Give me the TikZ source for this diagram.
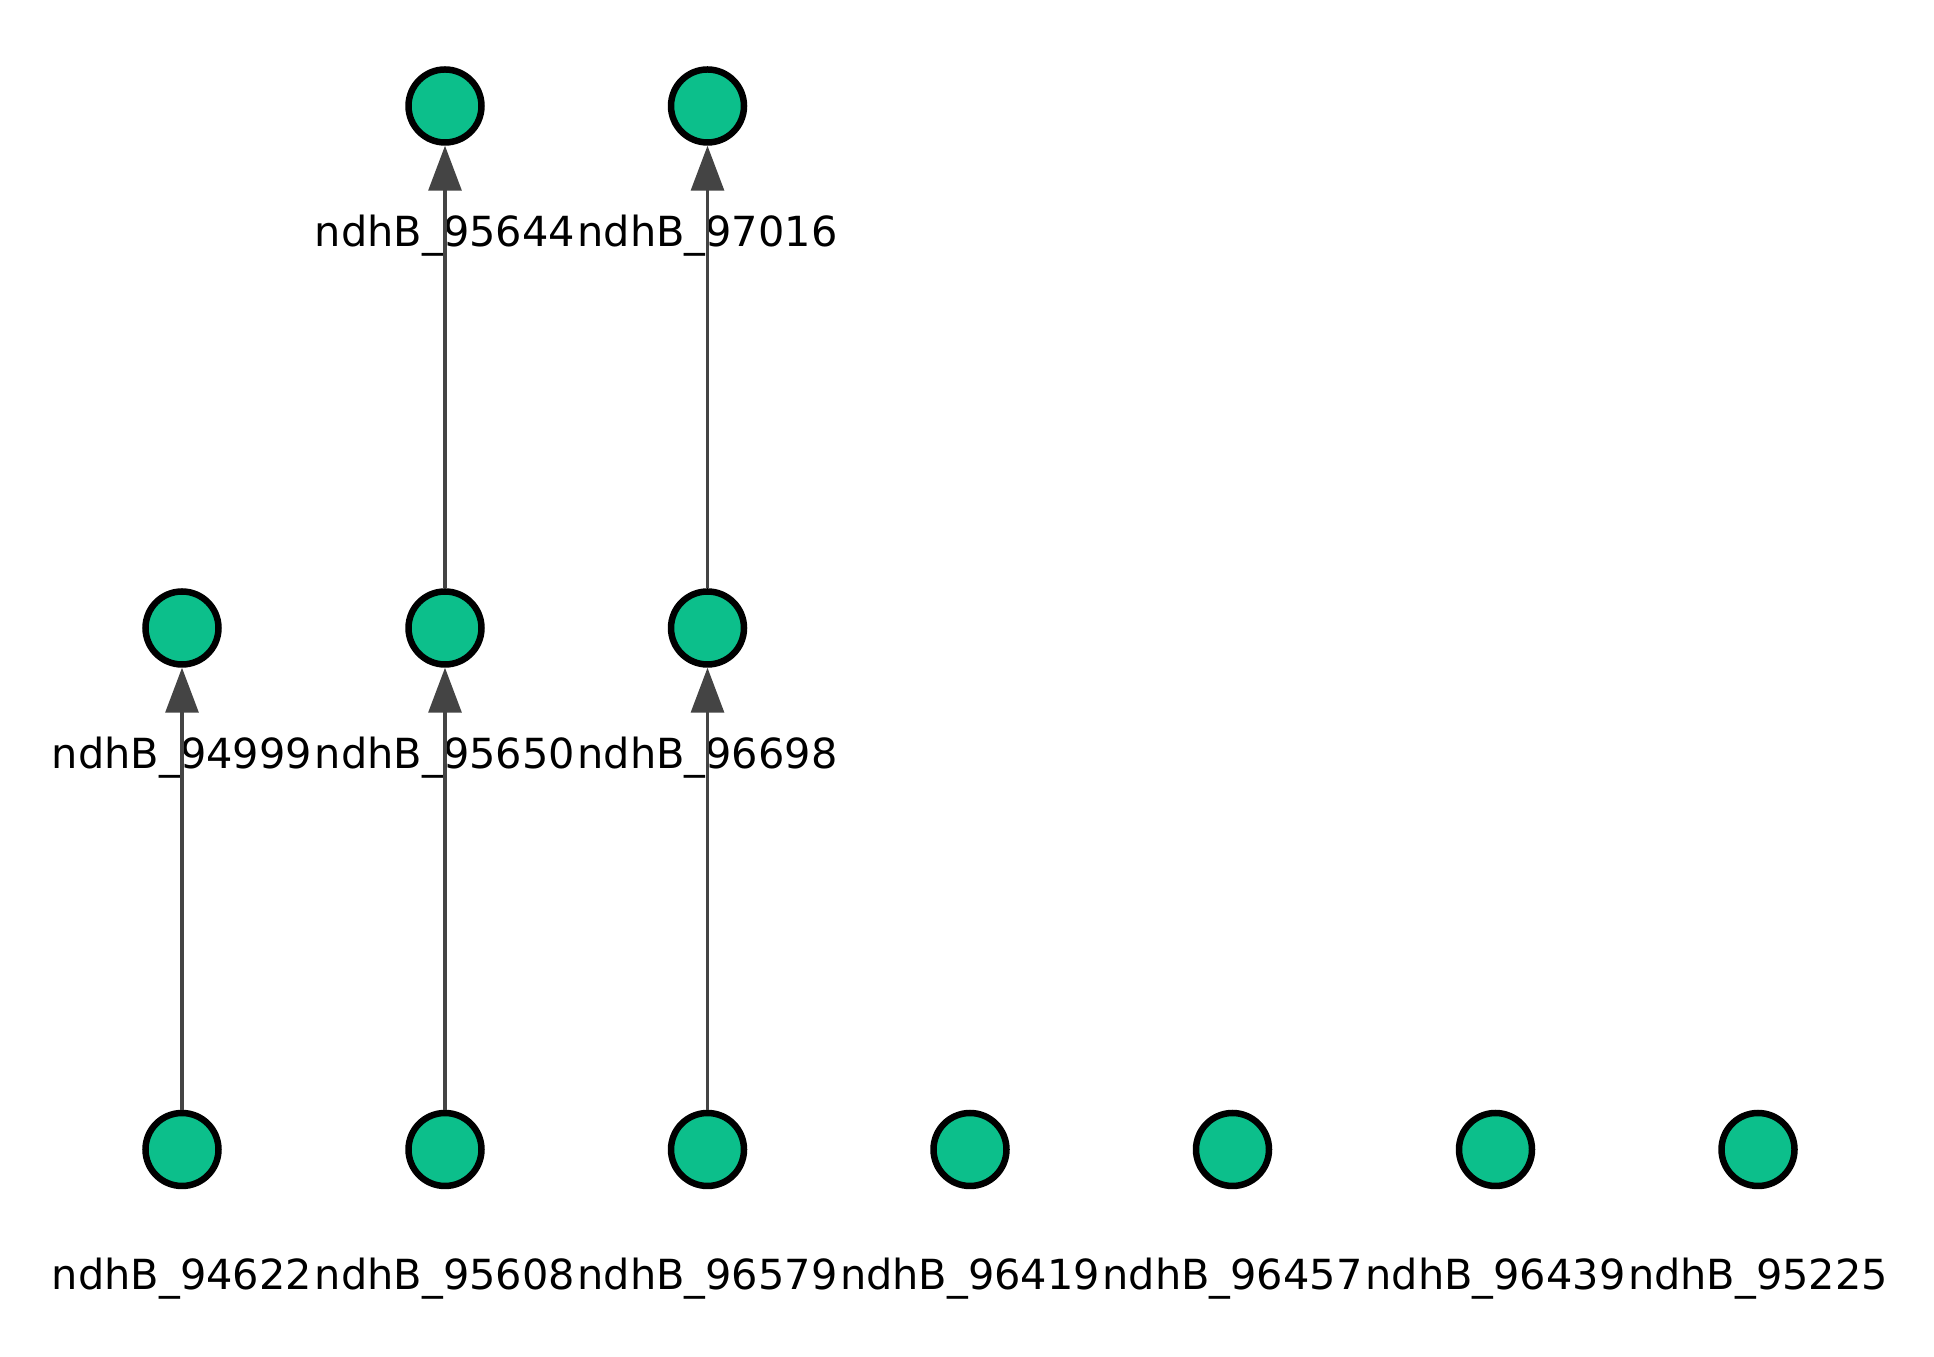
\documentclass[tikz,border=0pt]{standalone}
\usepackage{fontspec}
\setmainfont{DejaVu Sans}
\usetikzlibrary{arrows.meta}
\definecolor{gnode}{RGB}{12,191,139}
\definecolor{gedge}{RGB}{68,68,68}
\tikzset{every node/.style={circle,draw,line width=0.65mm,fill=gnode,minimum size=7.3mm,inner sep=0pt}}
\tikzset{every label/.style={rectangle,draw=none,fill=none,inner sep=0.333em,font=\fontsize{11.8pt}{14pt}\selectfont}}
\tikzset{e/.style={gedge,line width=0.32mm,-{Triangle[length=4.5mm,width=3.3mm]}}}

\begin{document}
\begin{tikzpicture}[label distance=5mm]
      \useasboundingbox (0,0) rectangle (19.34,13.57);
      % top row
      \node (n95644)[label=below:{ndhB\_95644}] at (4.45,12.51) {};
      \node (n97016)[label=below:{ndhB\_97016}] at (7.075,12.51) {};
      % middle row
      \node (n94999)[label=below:{ndhB\_94999}] at (1.82,7.29) {};
      \node (n95650)[label=below:{ndhB\_95650}] at (4.45,7.29) {};
      \node (n96698)[label=below:{ndhB\_96698}] at (7.075,7.29) {};
      % bottom row
      \node (n94622)[label=below:{ndhB\_94622}] at (1.82,2.075) {};
      \node (n95608)[label=below:{ndhB\_95608}] at (4.45,2.075) {};
      \node (n96579)[label=below:{ndhB\_96579}] at (7.075,2.075) {};
      \node (n96419)[label=below:{ndhB\_96419}] at (9.70,2.075) {};
      \node (n96457)[label=below:{ndhB\_96457}] at (12.325,2.075) {};
      \node (n96439)[label=below:{ndhB\_96439}] at (14.955,2.075) {};
      \node (n95225)[label=below:{ndhB\_95225}] at (17.58,2.075) {};
      \foreach \a/\b in {n94622/n94999,n95608/n95650,n96579/n96698,n95650/n95644,n96698/n97016}
        \draw[e] (\a) -- (\b);
    \end{tikzpicture}
\end{document}
